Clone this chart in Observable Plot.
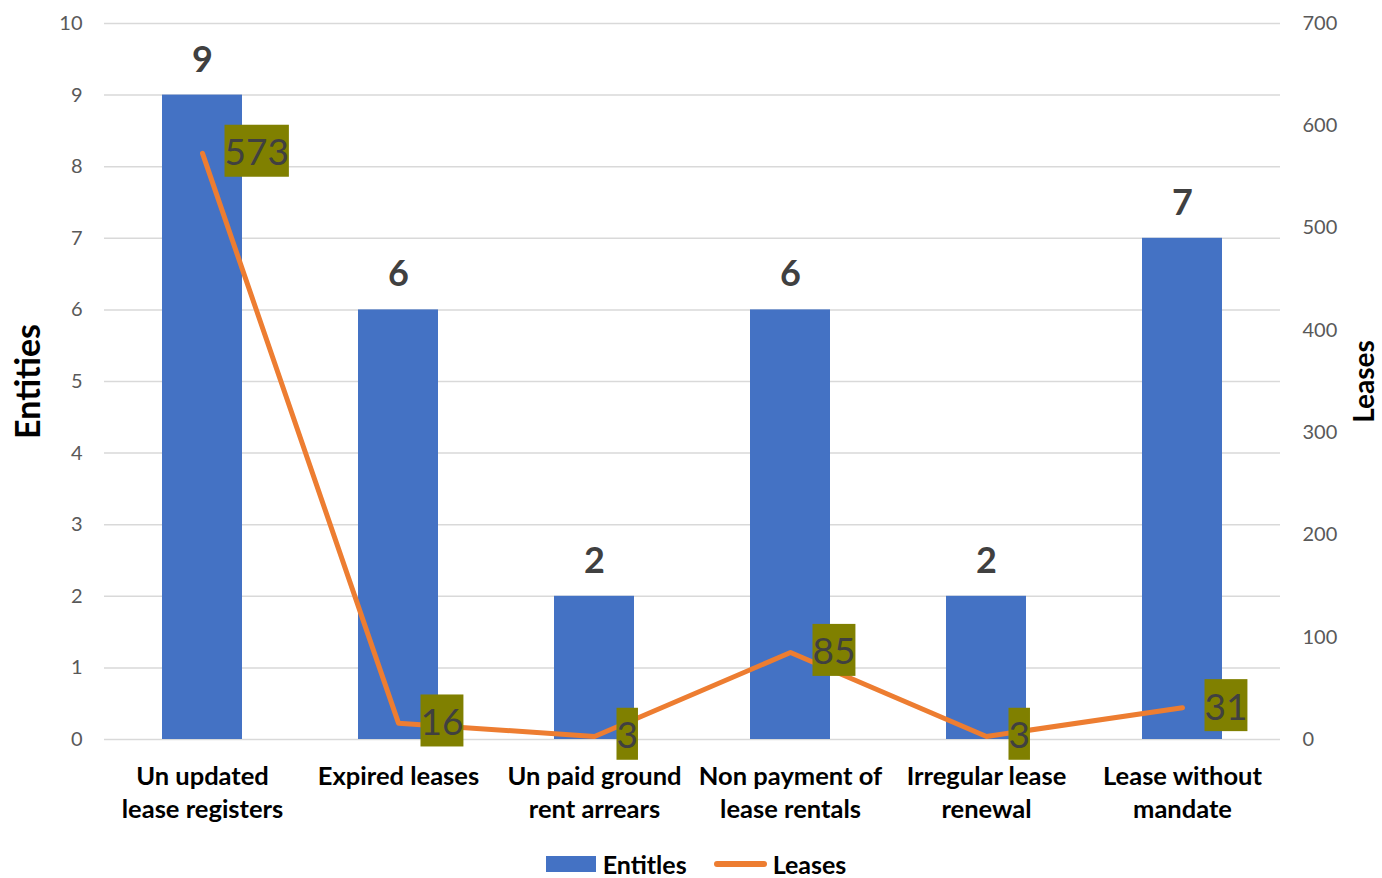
<!DOCTYPE html>
<html>
<head>
<meta charset="utf-8">
<script src="https://cdn.jsdelivr.net/npm/d3@7"></script>
<script src="https://cdn.jsdelivr.net/npm/@observablehq/plot@0.6"></script>
<style>
  body { margin: 0; background: #fff; font-family: Lato, "Open Sans", sans-serif; overflow: hidden; }
  #legend { display: flex; justify-content: center; align-items: center; height: 30px; line-height: 30px; margin-top: 7px; font-weight: bold; font-size: 25px; color: #000; }
  .sw { display: inline-block; }
</style>
</head>
<body>
<div id="chart"></div>
<div id="legend">
  <span class="sw" style="width:50px;height:16px;background:#4472C4;margin-right:7px;margin-left:10px"></span><span>Entitles</span>
  <span class="sw" style="width:53px;height:6px;border-radius:3px;background:#ED7D31;margin-left:27px;margin-right:6px"></span><span>Leases</span>
</div>
<script>
const categories = ["Un updated\nlease registers", "Expired leases", "Un paid ground\nrent arrears", "Non payment of\nlease rentals", "Irregular lease\nrenewal", "Lease without\nmandate"];
const entities = [9, 6, 2, 6, 2, 7];
const leases = [573, 16, 3, 85, 3, 31];
const leftTicks = [0,1,2,3,4,5,6,7,8,9,10];
const rightTicks = [0,100,200,300,400,500,600,700];
const ratio = 70; // right axis max 700 maps to left axis max 10

const data = categories.map((c, i) => ({cat: c, entities: entities[i], leases: leases[i]}));

const chart = Plot.plot({
  width: 1382,
  height: 842,
  marginTop: 23,
  marginBottom: 103,
  marginLeft: 104,
  marginRight: 102,
  style: {fontFamily: "Lato, 'Open Sans', sans-serif", color: "#595959", background: "#fff"},
  x: {domain: categories, paddingInner: 0.59, paddingOuter: 0.295, axis: null},
  y: {domain: [0, 10], label: null, axis: null},
  marks: [
    Plot.gridY(leftTicks, {stroke: "#d9d9d9", strokeOpacity: 1, strokeWidth: 1.5}),
    Plot.axisY(leftTicks, {anchor: "left", tickSize: 0, tickPadding: 22, fontSize: 20, label: null, tickFormat: d => String(d)}),
    Plot.axisY(rightTicks.map(v => v / ratio), {anchor: "right", tickSize: 0, tickPadding: 22, fontSize: 20, label: null, tickFormat: d => String(Math.round(d * ratio))}),
    Plot.barY(data, {x: "cat", y: "entities", fill: "#4472C4"}),
    Plot.text(data, {x: "cat", y: "entities", text: d => String(d.entities), dy: -35, fontSize: 36, fontWeight: "bold", fill: "#404040"}),
    Plot.line(data, {x: "cat", y: d => d.leases / ratio, stroke: "#ED7D31", strokeWidth: 5, strokeLinecap: "round", strokeLinejoin: "round"}),
    Plot.text(data, {x: "cat", y: d => d.leases / ratio, text: d => String(d.leases), textAnchor: "start", dx: 22, fontSize: 37, fill: "#404040", className: "lease-lbl"}),
    Plot.text(data, {x: "cat", y: 0, text: "cat", lineAnchor: "top", dy: 22, lineHeight: 1.3, fontSize: 25.5, fontWeight: "bold", fill: "#000"}),
    Plot.text(["Entities"], {frameAnchor: "left", textAnchor: "middle", rotate: -90, dx: -75, fontSize: 34, fontWeight: "bold", fill: "#000"}),
    Plot.text(["Leases"], {frameAnchor: "right", textAnchor: "middle", rotate: -90, dx: 85, fontSize: 28, fontWeight: "bold", fill: "#000"})
  ]
});
document.getElementById("chart").appendChild(chart);

// olive background boxes behind the lease labels
const svg = d3.select(chart);
svg.selectAll("g.lease-lbl text").each(function() {
  const b = this.getBBox();
  const h = 52;
  const cy = b.y + b.height / 2;
  d3.select(this.parentNode).insert("rect", () => this)
    .attr("x", b.x).attr("y", cy - h / 2)
    .attr("width", b.width).attr("height", h)
    .attr("fill", "#808000")
    .attr("transform", this.getAttribute("transform"));
});
</script>
</body>
</html>
